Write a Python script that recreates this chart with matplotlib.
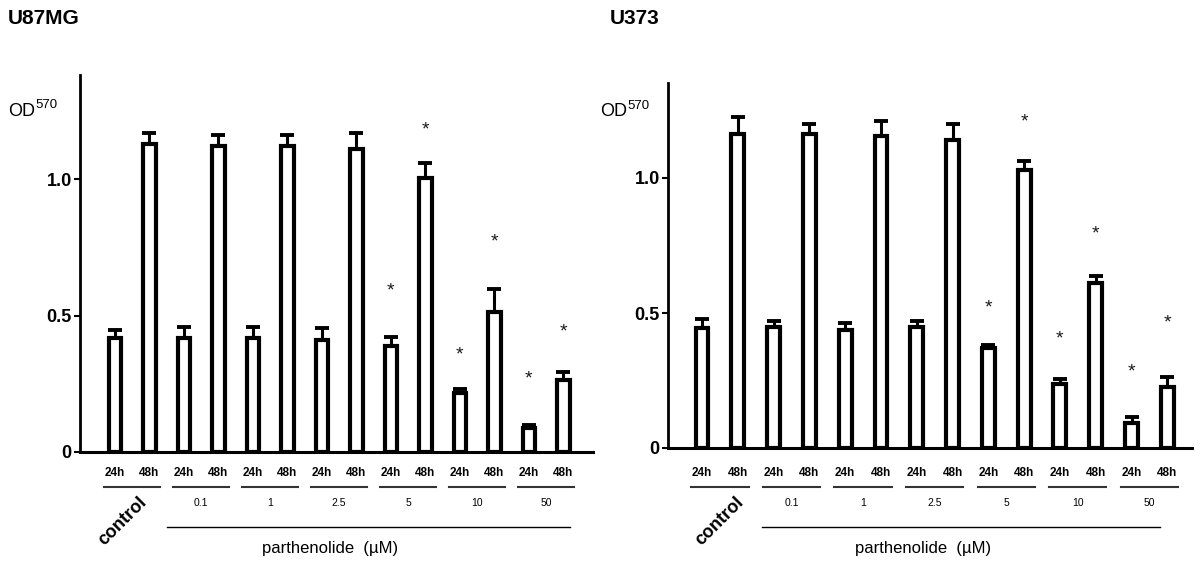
import matplotlib
matplotlib.use("Agg")
import matplotlib.pyplot as plt
import matplotlib.transforms as mtransforms
import numpy as np

plt.rcParams['font.family'] = ['Liberation Sans', 'DejaVu Sans']

# ---- data ----
conditions = ["control", "0.1", "1", "2.5", "5", "10", "50"]
times = ["24h", "48h"]

u87_mean = [0.417, 1.13, 0.417, 1.12, 0.417, 1.12, 0.41, 1.11, 0.388, 1.003, 0.216, 0.513, 0.088, 0.264]
u87_err  = [0.030, 0.04, 0.041, 0.04, 0.041, 0.04, 0.044, 0.06, 0.032, 0.055, 0.014, 0.084, 0.012, 0.029]
u87_star = [None, None, None, None, None, None, None, None, 0.59, 1.18, 0.355, 0.77, 0.267, 0.44]

u373_mean = [0.444, 1.163, 0.448, 1.163, 0.437, 1.156, 0.448, 1.14, 0.370, 1.030, 0.237, 0.610, 0.093, 0.225]
u373_err  = [0.034, 0.063, 0.022, 0.037, 0.026, 0.054, 0.022, 0.06, 0.012, 0.033, 0.018, 0.027, 0.022, 0.038]
u373_star = [None, None, None, None, None, None, None, None, 0.52, 1.207, 0.403, 0.793, 0.28, 0.463]

W, H = 1200, 568
fig = plt.figure(figsize=(12, 5.68), dpi=100)


def fy(ypix):
    return (H - ypix) / H


def panel(rect, means, errs, stars, ylim, xlim, title, title_x, od_x, od_y,
          ctrl_x, part_x, longline, label_pix):
    ax = fig.add_axes(rect)
    x = np.arange(len(means))
    ax.bar(x, means, width=0.36, color='white', edgecolor='black', linewidth=3.0, zorder=2)
    ax.errorbar(x, means, yerr=[np.zeros(len(errs)), errs], fmt='none', ecolor='black',
                elinewidth=2.2, capsize=5, capthick=2.8, zorder=1)
    for xi, s in zip(x, stars):
        if s is not None:
            ax.text(xi, s, '*', ha='center', va='center', fontsize=14, color='#1a1a1a')
    ax.set_ylim(*ylim)
    ax.set_xlim(*xlim)
    for sp in ['top', 'right']:
        ax.spines[sp].set_visible(False)
    ax.spines['left'].set_linewidth(2)
    ax.spines['bottom'].set_linewidth(2.2)
    ax.set_yticks([0, 0.5, 1.0])
    ax.set_yticklabels(['0', '0.5', '1.0'], fontsize=13, fontweight='bold')
    ax.tick_params(axis='y', direction='out', length=4, width=1.5, pad=2)
    ax.set_xticks([])
    ax.patch.set_alpha(0)

    trans = mtransforms.blended_transform_factory(ax.transData, fig.transFigure)
    y_time, y_seg, y_conc, y_long, y_part, y_ctrl = label_pix
    for i in range(len(means)):
        ax.text(x[i], fy(y_time), times[i % 2], transform=trans, ha='center', va='center',
                fontsize=8.5, fontweight='bold', clip_on=False)
    for k, cond in enumerate(conditions):
        c = 2 * k + 0.5
        ax.plot([c - 0.8, c + 0.8], [fy(y_seg)] * 2, transform=trans, color='#333333',
                lw=1.5, clip_on=False)
        if k > 0:
            ax.text(c, fy(y_conc), cond, transform=trans, ha='center', va='center',
                    fontsize=7.5, clip_on=False)
    ax.plot(longline, [fy(y_long)] * 2, transform=trans, color='black', lw=1.0, clip_on=False)
    ax.text(part_x, fy(y_part), 'parthenolide  (µM)', transform=trans, ha='center',
            va='center', fontsize=12, clip_on=False)
    ax.text(ctrl_x, fy(y_ctrl), 'control', transform=trans, ha='center', va='center',
            rotation=45, fontsize=13, fontweight='bold', clip_on=False)

    fig.text(title_x / W, fy(19), title, ha='left', va='center', fontsize=15, fontweight='bold')
    fig.text(od_x / W, fy(od_y), 'OD', ha='left', va='center', fontsize=13)
    fig.text((od_x + 27) / W, fy(od_y - 6), '570', ha='left', va='center', fontsize=9.5)
    return ax


panel([80 / W, fy(452), (593 - 80) / W, (452 - 75) / H], u87_mean, u87_err, u87_star,
      (0, (452 - 75) / 273.0), (-1.01, 13.86), 'U87MG', 8, 8, 111,
      0.23, 6.23, [1.5, 13.2], (473, 487, 503, 527, 548, 521))

panel([668 / W, fy(448), (1192 - 668) / W, (448 - 83) / H], u373_mean, u373_err, u373_star,
      (0, (448 - 83) / 270.0), (-0.95, 13.69), 'U373', 610, 600, 112,
      0.5, 6.17, [1.68, 12.8], (473, 487, 503, 527, 548, 521))

fig.savefig('out.png', dpi=100, facecolor='white')
